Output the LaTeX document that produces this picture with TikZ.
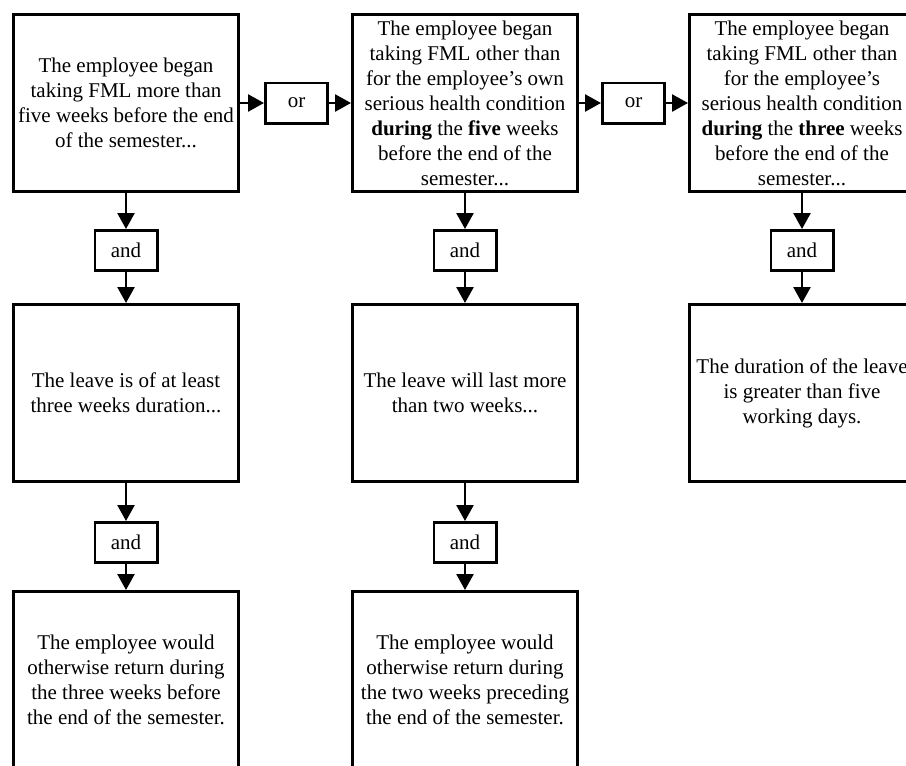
\documentclass[tikz,border=0pt]{standalone}
\usepackage{fontspec}
\setmainfont{Liberation Serif}
\usetikzlibrary{arrows.meta, positioning}

\begin{document}
\begin{tikzpicture}[
  x=1pt, y=-1pt,
  every node/.style={font=\fontsize{21}{25}\selectfont},
  cond/.style={rectangle, draw=black, line width=2.6pt,
               minimum width=225.4pt, minimum height=177.4pt,
               inner sep=0pt, align=center},
  conj/.style={rectangle, draw=black, line width=2.6pt,
               minimum width=62.4pt, minimum height=40.4pt, inner sep=0pt},
  arr/.style={-{Triangle[length=16pt, width=17pt]}, line width=2.6pt}
]

\fill[white] (0,0) rectangle (906,766);
\useasboundingbox (0,0) rectangle (906,766);

% Row 1: start conditions, joined by "or"
\node[cond] (start1) at (126,103) {The employee began\\taking FML more than\\five weeks before the end\\of the semester...};
\node[conj, right=24pt of start1] (or1) {or};
\node[cond, right=22pt of or1] (start2) {The employee began\\taking FML other than\\for the employee’s own\\serious health condition\\\textbf{during} the \textbf{five} weeks\\before the end of the\\semester...};
\node[conj, right=22pt of start2] (or2) {or};
\node[cond, right=22pt of or2] (start3) {The employee began\\taking FML other than\\for the employee’s\\serious health condition\\\textbf{during} the \textbf{three} weeks\\before the end of the\\semester...};

% Row 2: leave duration
\node[conj, below=36pt of start1] (and1) {and};
\node[cond, below=31pt of and1] (dur1) {The leave is of at least\\three weeks duration...};
\node[conj, below=36pt of start2] (and2) {and};
\node[cond, below=31pt of and2] (dur2) {The leave will last more\\than two weeks...};
\node[conj, below=36pt of start3] (and3) {and};
\node[cond, below=31pt of and3] (dur3) {The duration of the leave\\is greater than five\\working days.};

% Row 3: return date
\node[conj, below=38pt of dur1] (and4) {and};
\node[cond, below=26pt of and4] (ret1) {The employee would\\otherwise return during\\the three weeks before\\the end of the semester.};
\node[conj, below=38pt of dur2] (and5) {and};
\node[cond, below=26pt of and5] (ret2) {The employee would\\otherwise return during\\the two weeks preceding\\the end of the semester.};

% Horizontal arrows
\draw[arr] (start1) -- (or1);
\draw[arr] (or1) -- (start2);
\draw[arr] (start2) -- (or2);
\draw[arr] (or2) -- (start3);

% Vertical arrows
\draw[arr] (start1) -- (and1);
\draw[arr] (and1) -- (dur1);
\draw[arr] (dur1) -- (and4);
\draw[arr] (and4) -- (ret1);
\draw[arr] (start2) -- (and2);
\draw[arr] (and2) -- (dur2);
\draw[arr] (dur2) -- (and5);
\draw[arr] (and5) -- (ret2);
\draw[arr] (start3) -- (and3);
\draw[arr] (and3) -- (dur3);

\end{tikzpicture}
\end{document}
